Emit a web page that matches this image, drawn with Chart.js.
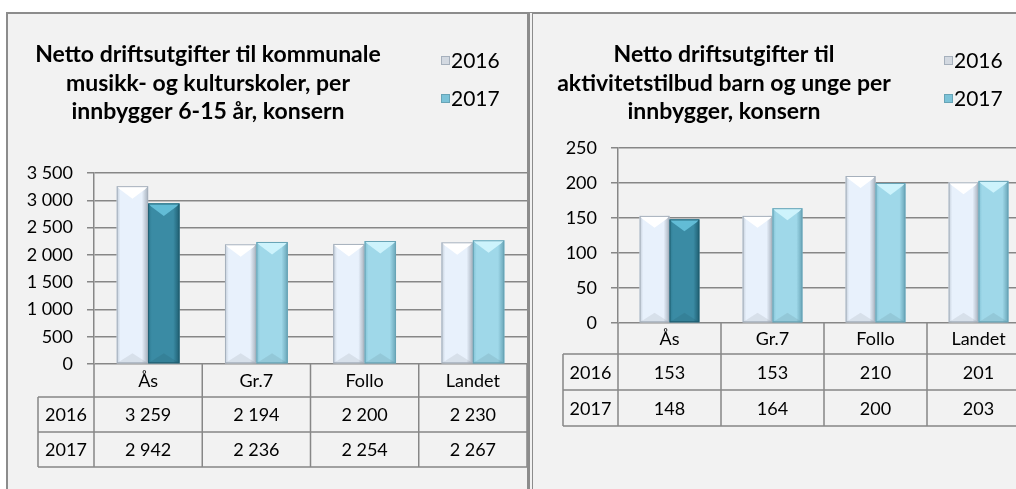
<!DOCTYPE html>
<html>
<head>
<meta charset="utf-8">
<script src="https://cdn.jsdelivr.net/npm/chart.js@4"></script>
<style>
  html, body { margin: 0; background: #fff; overflow: hidden; }
  body { width: 1016px; height: 489px; position: relative; }
  .panel { position: absolute; top: 12px; height: 490px; background: #f2f2f2; border-top: 2px solid #8c8c8c; overflow: hidden; }
  #p1 { left: 6px; width: 519px; border-left: 2px solid #8c8c8c; border-right: 2px solid #8c8c8c; }
  #p2 { left: 529px; width: 500px; border-left: 4px double #8c8c8c; }
  canvas { display: block; }
</style>
</head>
<body>
<div class="panel" id="p1"><canvas id="musikkChart" width="519" height="476"></canvas></div>
<div class="panel" id="p2"><canvas id="aktivitetChart" width="497" height="476"></canvas></div>
<script>
// data
const categories = ['Ås', 'Gr.7', 'Follo', 'Landet'];
const seriesLabels = ['2016', '2017'];

const musikk2016 = [3259, 2194, 2200, 2230];
const musikk2017 = [2942, 2236, 2254, 2267];
const musikkTicks = [0, 3500, 500]; // min, max, step
const musikkTitle = ['Netto driftsutgifter til kommunale', 'musikk- og kulturskoler, per', 'innbygger 6-15 år, konsern'];

const aktivitet2016 = [153, 153, 210, 201];
const aktivitet2017 = [148, 164, 200, 203];
const aktivitetTicks = [0, 250, 50];
const aktivitetTitle = ['Netto driftsutgifter til', 'aktivitetstilbud barn og unge per', 'innbygger, konsern'];

// style
const FONT = 'Lato, "Noto Sans", sans-serif';
const GRID = '#878787';
const palette = {
  pale:  { edge: '#c2ccd8', face: '#e8f1fc', shade: '#a6b0bc', top: '#ffffff', key: '#d3d9e1' },
  light: { edge: '#80c0d3', face: '#9fd8e9', shade: '#68a4b6', top: '#cdf3fc', key: '#7cc3d8' },
  dark:  { edge: '#2e7b92', face: '#3a8ba4', shade: '#1f5e71', top: '#62bcd6', key: '#3a8ba4' }
};

const fmt = (v) => String(v).replace(/\B(?=(\d{3})+(?!\d))/g, ' ');

function barColors(di, i) {
  if (di === 0) return palette.pale;
  return i === 0 ? palette.dark : palette.light; // home municipality stands out
}

// repaint bars with the excel-ish bevel, using the bar elements' geometry
const bevelBars = {
  id: 'bevelBars',
  afterDatasetsDraw(chart) {
    const ctx = chart.ctx;
    chart.data.datasets.forEach((ds, di) => {
      chart.getDatasetMeta(di).data.forEach((bar, i) => {
        const p = barColors(di, i);
        const w = bar.width, l = bar.x - w / 2, r = bar.x + w / 2;
        const t = bar.y, b = bar.base;
        const g = ctx.createLinearGradient(l, 0, r, 0);
        g.addColorStop(0, p.edge);
        g.addColorStop(0.12, p.face);
        g.addColorStop(0.8, p.face);
        g.addColorStop(1, p.shade);
        ctx.save();
        ctx.fillStyle = g;
        ctx.fillRect(l, t, w, b - t);
        const d = Math.min(w * 0.4, (b - t) / 2);
        ctx.beginPath();
        ctx.moveTo(l, t); ctx.lineTo(r, t); ctx.lineTo(r - 3, t + 3);
        ctx.lineTo(bar.x, t + d); ctx.lineTo(l + 3, t + 3); ctx.closePath();
        ctx.fillStyle = p.top;
        ctx.fill();
        ctx.beginPath();
        ctx.moveTo(l, b); ctx.lineTo(r, b); ctx.lineTo(bar.x, b - d * 0.8); ctx.closePath();
        ctx.fillStyle = 'rgba(0,0,0,0.07)';
        ctx.fill();
        ctx.strokeStyle = p.shade;
        ctx.lineWidth = 1;
        ctx.strokeRect(l + 0.5, t + 0.5, w - 1, b - t - 1);
        ctx.restore();
      });
    });
  }
};

// title, legend and the data table under the x axis
const panelText = {
  id: 'panelText',
  afterDraw(chart, args, opts) {
    const ctx = chart.ctx;
    const area = chart.chartArea;
    const x = chart.scales.x;
    const n = chart.data.labels.length;
    ctx.save();
    ctx.fillStyle = '#000';
    ctx.textBaseline = 'middle';
    ctx.textAlign = 'center';
    ctx.font = 'bold 23px ' + FONT;
    opts.title.forEach((line, i) => ctx.fillText(line, opts.titleX, opts.titleY + i * 28.5));

    ctx.font = '21px ' + FONT;
    ctx.textAlign = 'left';
    chart.data.datasets.forEach((ds, di) => {
      const y = opts.legendY + di * 38;
      const p = barColors(di, 1);
      ctx.fillStyle = p.key;
      ctx.fillRect(opts.legendX - 1, y - 4, 9, 9);
      ctx.strokeStyle = p.shade;
      ctx.lineWidth = 1;
      ctx.strokeRect(opts.legendX - 0.5, y - 3.5, 8, 8);
      ctx.fillStyle = '#000';
      ctx.fillText(ds.label, opts.legendX + 9, y + 1);
    });

    ctx.font = '18px ' + FONT;
    const cw = (x.right - x.left) / n;
    const edges = [];
    for (let i = 0; i <= n; i++) edges.push(x.getPixelForValue(0) - cw / 2 + i * cw);
    const rows = [area.bottom, area.bottom + opts.headH];
    chart.data.datasets.forEach(() => rows.push(rows[rows.length - 1] + opts.rowH));
    const bottom = rows[rows.length - 1];

    ctx.strokeStyle = GRID;
    ctx.lineWidth = 1.5;
    ctx.beginPath();
    edges.forEach((ex) => { ctx.moveTo(ex, area.bottom); ctx.lineTo(ex, bottom); });
    rows.slice(1).forEach((ry) => { ctx.moveTo(opts.labelLeft, ry); ctx.lineTo(edges[n], ry); });
    ctx.moveTo(opts.labelLeft, rows[1]); ctx.lineTo(opts.labelLeft, bottom);
    ctx.stroke();

    ctx.fillStyle = '#000';
    ctx.textAlign = 'center';
    chart.data.labels.forEach((lab, i) => {
      const cx = (edges[i] + edges[i + 1]) / 2;
      ctx.fillText(lab, cx, (rows[0] + rows[1]) / 2 + 1);
      chart.data.datasets.forEach((ds, di) => {
        ctx.fillText(fmt(ds.data[i]), cx, (rows[di + 1] + rows[di + 2]) / 2 + 1);
      });
    });
    chart.data.datasets.forEach((ds, di) => {
      ctx.fillText(ds.label, (opts.labelLeft + edges[0]) / 2, (rows[di + 1] + rows[di + 2]) / 2 + 1);
    });
    ctx.restore();
  }
};

function makeChart(id, v2016, v2017, ticks, title, box) {
  return new Chart(document.getElementById(id), {
    type: 'bar',
    data: {
      labels: categories,
      datasets: [
        { label: seriesLabels[0], data: v2016, backgroundColor: palette.pale.face },
        { label: seriesLabels[1], data: v2017, backgroundColor: palette.light.face }
      ]
    },
    options: {
      responsive: false,
      animation: false,
      layout: { padding: { top: box.top, bottom: box.bottom, left: 0, right: 0 } },
      datasets: { bar: { barPercentage: 1, categoryPercentage: 0.58, borderWidth: 0 } },
      scales: {
        x: { display: false, offset: true },
        y: {
          min: ticks[0],
          max: ticks[1],
          ticks: {
            stepSize: ticks[2],
            color: '#000',
            padding: 14,
            font: { family: FONT, size: 18 },
            callback: (v) => fmt(v)
          },
          grid: { color: GRID, lineWidth: 1.5, tickLength: 7 },
          border: { color: GRID, width: 1.5 },
          afterFit: (s) => { s.width = box.axis; }
        }
      },
      plugins: {
        legend: { display: false },
        tooltip: { enabled: false },
        panelText: {
          title,
          titleX: box.titleX,
          titleY: 41,
          legendX: box.legendX,
          legendY: 46,
          labelLeft: 30,
          headH: box.headH,
          rowH: box.rowH
        }
      }
    },
    plugins: [bevelBars, panelText]
  });
}

makeChart('musikkChart', musikk2016, musikk2017, musikkTicks, musikkTitle,
  { axis: 86, top: 159, bottom: 126, titleX: 200, legendX: 434, headH: 33, rowH: 35 });
makeChart('aktivitetChart', aktivitet2016, aktivitet2017, aktivitetTicks, aktivitetTitle,
  { axis: 85, top: 134, bottom: 167, titleX: 191, legendX: 412, headH: 31, rowH: 36 });
</script>
</body>
</html>
